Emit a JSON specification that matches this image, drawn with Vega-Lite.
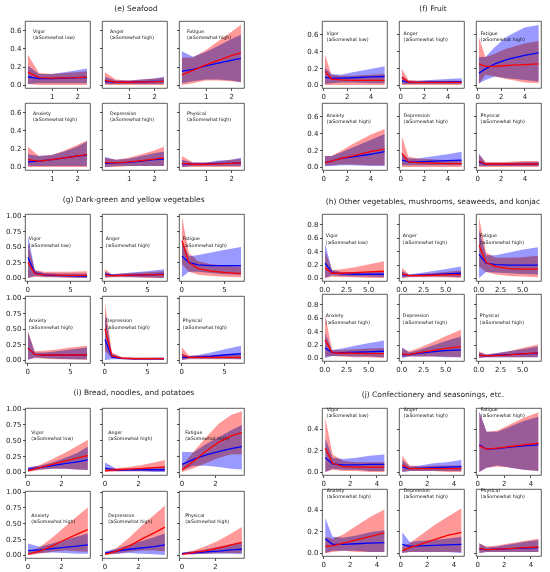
{
"$schema":"https://vega.github.io/schema/vega-lite/v6.json",
"data":{"name":"d","values":[
{"g":"e","p":"Vigor","x":0.07,"r":0.14,"rl":0.01,"rh":0.33,"b":0.09,"bl":0.01,"bh":0.21},
{"g":"e","p":"Vigor","x":0.5,"r":0.08,"rl":0,"rh":0.13,"b":0.07,"bl":0.02,"bh":0.12},
{"g":"e","p":"Vigor","x":1.0,"r":0.075,"rl":0,"rh":0.12,"b":0.07,"bl":0.02,"bh":0.12},
{"g":"e","p":"Vigor","x":1.5,"r":0.078,"rl":0,"rh":0.13,"b":0.075,"bl":0.02,"bh":0.14},
{"g":"e","p":"Vigor","x":2.0,"r":0.08,"rl":0,"rh":0.14,"b":0.08,"bl":0.02,"bh":0.16},
{"g":"e","p":"Vigor","x":2.38,"r":0.085,"rl":0,"rh":0.15,"b":0.082,"bl":0.02,"bh":0.18},
{"g":"e","p":"Anger","x":0.07,"r":0.05,"rl":0,"rh":0.14,"b":0.04,"bl":0.01,"bh":0.09},
{"g":"e","p":"Anger","x":0.5,"r":0.03,"rl":0,"rh":0.06,"b":0.03,"bl":0.01,"bh":0.05},
{"g":"e","p":"Anger","x":1.0,"r":0.03,"rl":0,"rh":0.05,"b":0.03,"bl":0.01,"bh":0.05},
{"g":"e","p":"Anger","x":1.5,"r":0.035,"rl":0,"rh":0.06,"b":0.035,"bl":0.01,"bh":0.06},
{"g":"e","p":"Anger","x":2.0,"r":0.035,"rl":0,"rh":0.07,"b":0.04,"bl":0.01,"bh":0.07},
{"g":"e","p":"Anger","x":2.38,"r":0.04,"rl":0,"rh":0.08,"b":0.04,"bl":0.01,"bh":0.09},
{"g":"e","p":"Fatigue","x":0.07,"r":0.11,"rl":0,"rh":0.30,"b":0.15,"bl":0.02,"bh":0.37},
{"g":"e","p":"Fatigue","x":0.5,"r":0.16,"rl":0.02,"rh":0.30,"b":0.17,"bl":0.04,"bh":0.31},
{"g":"e","p":"Fatigue","x":1.0,"r":0.22,"rl":0.05,"rh":0.38,"b":0.21,"bl":0.06,"bh":0.36},
{"g":"e","p":"Fatigue","x":1.5,"r":0.27,"rl":0.05,"rh":0.48,"b":0.24,"bl":0.06,"bh":0.43},
{"g":"e","p":"Fatigue","x":2.0,"r":0.32,"rl":0.04,"rh":0.58,"b":0.27,"bl":0.05,"bh":0.50},
{"g":"e","p":"Fatigue","x":2.38,"r":0.35,"rl":0.03,"rh":0.66,"b":0.29,"bl":0.03,"bh":0.55},
{"g":"e","p":"Anxiety","x":0.07,"r":0.08,"rl":0,"rh":0.22,"b":0.055,"bl":0.01,"bh":0.14},
{"g":"e","p":"Anxiety","x":0.5,"r":0.065,"rl":0,"rh":0.12,"b":0.065,"bl":0.01,"bh":0.12},
{"g":"e","p":"Anxiety","x":1.0,"r":0.08,"rl":0,"rh":0.13,"b":0.08,"bl":0.01,"bh":0.13},
{"g":"e","p":"Anxiety","x":1.5,"r":0.10,"rl":0,"rh":0.18,"b":0.10,"bl":0.01,"bh":0.17},
{"g":"e","p":"Anxiety","x":2.0,"r":0.12,"rl":0,"rh":0.24,"b":0.12,"bl":0.01,"bh":0.22},
{"g":"e","p":"Anxiety","x":2.38,"r":0.135,"rl":0,"rh":0.29,"b":0.13,"bl":0.01,"bh":0.28},
{"g":"e","p":"Depression","x":0.07,"r":0.05,"rl":0,"rh":0.10,"b":0.04,"bl":0,"bh":0.11},
{"g":"e","p":"Depression","x":0.5,"r":0.045,"rl":0,"rh":0.08,"b":0.045,"bl":0.01,"bh":0.08},
{"g":"e","p":"Depression","x":1.0,"r":0.055,"rl":0.01,"rh":0.10,"b":0.05,"bl":0.01,"bh":0.09},
{"g":"e","p":"Depression","x":1.5,"r":0.07,"rl":0.01,"rh":0.14,"b":0.065,"bl":0.01,"bh":0.12},
{"g":"e","p":"Depression","x":2.0,"r":0.085,"rl":0.01,"rh":0.18,"b":0.08,"bl":0.01,"bh":0.15},
{"g":"e","p":"Depression","x":2.38,"r":0.10,"rl":0.01,"rh":0.22,"b":0.085,"bl":0.01,"bh":0.17},
{"g":"e","p":"Physical","x":0.07,"r":0.04,"rl":0,"rh":0.12,"b":0.035,"bl":0,"bh":0.08},
{"g":"e","p":"Physical","x":0.5,"r":0.03,"rl":0,"rh":0.05,"b":0.03,"bl":0.01,"bh":0.05},
{"g":"e","p":"Physical","x":1.0,"r":0.03,"rl":0,"rh":0.05,"b":0.035,"bl":0.01,"bh":0.05},
{"g":"e","p":"Physical","x":1.5,"r":0.035,"rl":0,"rh":0.06,"b":0.04,"bl":0.01,"bh":0.07},
{"g":"e","p":"Physical","x":2.0,"r":0.04,"rl":0,"rh":0.08,"b":0.04,"bl":0.01,"bh":0.08},
{"g":"e","p":"Physical","x":2.38,"r":0.045,"rl":0,"rh":0.09,"b":0.045,"bl":0.01,"bh":0.10},
{"g":"f","p":"Vigor","x":0.15,"r":0.16,"rl":0,"rh":0.36,"b":0.09,"bl":0.01,"bh":0.20},
{"g":"f","p":"Vigor","x":0.7,"r":0.07,"rl":0,"rh":0.12,"b":0.08,"bl":0.02,"bh":0.13},
{"g":"f","p":"Vigor","x":1.5,"r":0.06,"rl":0,"rh":0.11,"b":0.08,"bl":0.03,"bh":0.12},
{"g":"f","p":"Vigor","x":2.5,"r":0.055,"rl":0,"rh":0.11,"b":0.085,"bl":0.03,"bh":0.15},
{"g":"f","p":"Vigor","x":4.0,"r":0.055,"rl":0,"rh":0.12,"b":0.095,"bl":0.02,"bh":0.19},
{"g":"f","p":"Vigor","x":5.2,"r":0.055,"rl":0,"rh":0.13,"b":0.10,"bl":0.02,"bh":0.22},
{"g":"f","p":"Anger","x":0.15,"r":0.09,"rl":0,"rh":0.19,"b":0.05,"bl":0.01,"bh":0.11},
{"g":"f","p":"Anger","x":0.7,"r":0.035,"rl":0,"rh":0.06,"b":0.03,"bl":0.01,"bh":0.05},
{"g":"f","p":"Anger","x":1.5,"r":0.03,"rl":0,"rh":0.05,"b":0.03,"bl":0.01,"bh":0.05},
{"g":"f","p":"Anger","x":2.5,"r":0.03,"rl":0,"rh":0.05,"b":0.035,"bl":0.01,"bh":0.06},
{"g":"f","p":"Anger","x":4.0,"r":0.03,"rl":0,"rh":0.05,"b":0.035,"bl":0.01,"bh":0.07},
{"g":"f","p":"Anger","x":5.2,"r":0.03,"rl":0,"rh":0.05,"b":0.04,"bl":0.01,"bh":0.08},
{"g":"f","p":"Fatigue","x":0.15,"r":0.25,"rl":0.01,"rh":0.56,"b":0.14,"bl":0.02,"bh":0.33},
{"g":"f","p":"Fatigue","x":0.7,"r":0.22,"rl":0.12,"rh":0.33,"b":0.19,"bl":0.06,"bh":0.33},
{"g":"f","p":"Fatigue","x":1.5,"r":0.22,"rl":0.10,"rh":0.37,"b":0.25,"bl":0.10,"bh":0.45},
{"g":"f","p":"Fatigue","x":2.5,"r":0.23,"rl":0.07,"rh":0.43,"b":0.30,"bl":0.08,"bh":0.57},
{"g":"f","p":"Fatigue","x":4.0,"r":0.24,"rl":0.03,"rh":0.49,"b":0.35,"bl":0.06,"bh":0.68},
{"g":"f","p":"Fatigue","x":5.2,"r":0.25,"rl":0.02,"rh":0.52,"b":0.38,"bl":0.04,"bh":0.71},
{"g":"f","p":"Anxiety","x":0.15,"r":0.05,"rl":0.01,"rh":0.13,"b":0.05,"bl":0.01,"bh":0.13},
{"g":"f","p":"Anxiety","x":0.7,"r":0.07,"rl":0.02,"rh":0.13,"b":0.07,"bl":0.01,"bh":0.13},
{"g":"f","p":"Anxiety","x":1.5,"r":0.10,"rl":0.03,"rh":0.19,"b":0.10,"bl":0.02,"bh":0.17},
{"g":"f","p":"Anxiety","x":2.5,"r":0.13,"rl":0.03,"rh":0.27,"b":0.12,"bl":0.02,"bh":0.23},
{"g":"f","p":"Anxiety","x":4.0,"r":0.18,"rl":0.02,"rh":0.38,"b":0.15,"bl":0.01,"bh":0.32},
{"g":"f","p":"Anxiety","x":5.2,"r":0.21,"rl":0.02,"rh":0.45,"b":0.18,"bl":0.01,"bh":0.39},
{"g":"f","p":"Depression","x":0.15,"r":0.16,"rl":0,"rh":0.36,"b":0.08,"bl":0.02,"bh":0.16},
{"g":"f","p":"Depression","x":0.7,"r":0.06,"rl":0,"rh":0.12,"b":0.06,"bl":0.02,"bh":0.10},
{"g":"f","p":"Depression","x":1.5,"r":0.05,"rl":0,"rh":0.10,"b":0.06,"bl":0.02,"bh":0.10},
{"g":"f","p":"Depression","x":2.5,"r":0.045,"rl":0,"rh":0.09,"b":0.065,"bl":0.02,"bh":0.12},
{"g":"f","p":"Depression","x":4.0,"r":0.04,"rl":0,"rh":0.08,"b":0.075,"bl":0.02,"bh":0.15},
{"g":"f","p":"Depression","x":5.2,"r":0.04,"rl":0,"rh":0.08,"b":0.08,"bl":0.02,"bh":0.18},
{"g":"f","p":"Physical","x":0.15,"r":0.07,"rl":0,"rh":0.15,"b":0.06,"bl":0.01,"bh":0.16},
{"g":"f","p":"Physical","x":0.7,"r":0.035,"rl":0,"rh":0.06,"b":0.03,"bl":0.01,"bh":0.05},
{"g":"f","p":"Physical","x":1.5,"r":0.035,"rl":0,"rh":0.06,"b":0.03,"bl":0.01,"bh":0.05},
{"g":"f","p":"Physical","x":2.5,"r":0.035,"rl":0,"rh":0.06,"b":0.03,"bl":0.01,"bh":0.05},
{"g":"f","p":"Physical","x":4.0,"r":0.035,"rl":0,"rh":0.07,"b":0.03,"bl":0.01,"bh":0.06},
{"g":"f","p":"Physical","x":5.2,"r":0.035,"rl":0,"rh":0.07,"b":0.03,"bl":0.01,"bh":0.06},
{"g":"g","p":"Vigor","x":0.1,"r":0.25,"rl":0,"rh":0.55,"b":0.33,"bl":0,"bh":0.68},
{"g":"g","p":"Vigor","x":0.9,"r":0.07,"rl":0.02,"rh":0.13,"b":0.08,"bl":0.03,"bh":0.12},
{"g":"g","p":"Vigor","x":2.0,"r":0.05,"rl":0.01,"rh":0.10,"b":0.05,"bl":0.02,"bh":0.08},
{"g":"g","p":"Vigor","x":3.5,"r":0.045,"rl":0.01,"rh":0.10,"b":0.04,"bl":0.01,"bh":0.07},
{"g":"g","p":"Vigor","x":5.0,"r":0.04,"rl":0,"rh":0.10,"b":0.035,"bl":0.01,"bh":0.07},
{"g":"g","p":"Vigor","x":7.0,"r":0.04,"rl":0,"rh":0.11,"b":0.03,"bl":0,"bh":0.07},
{"g":"g","p":"Anger","x":0.1,"r":0.05,"rl":0,"rh":0.14,"b":0.06,"bl":0.01,"bh":0.10},
{"g":"g","p":"Anger","x":0.9,"r":0.035,"rl":0.01,"rh":0.06,"b":0.04,"bl":0.02,"bh":0.06},
{"g":"g","p":"Anger","x":2.0,"r":0.04,"rl":0.01,"rh":0.07,"b":0.04,"bl":0.02,"bh":0.07},
{"g":"g","p":"Anger","x":3.5,"r":0.045,"rl":0.01,"rh":0.08,"b":0.045,"bl":0.01,"bh":0.09},
{"g":"g","p":"Anger","x":5.0,"r":0.05,"rl":0,"rh":0.09,"b":0.05,"bl":0.01,"bh":0.11},
{"g":"g","p":"Anger","x":7.0,"r":0.055,"rl":0,"rh":0.11,"b":0.06,"bl":0,"bh":0.14},
{"g":"g","p":"Fatigue","x":0.1,"r":0.60,"rl":0.22,"rh":0.98,"b":0.35,"bl":0.01,"bh":0.60},
{"g":"g","p":"Fatigue","x":0.9,"r":0.25,"rl":0.10,"rh":0.40,"b":0.25,"bl":0.10,"bh":0.35},
{"g":"g","p":"Fatigue","x":2.0,"r":0.15,"rl":0.05,"rh":0.27,"b":0.21,"bl":0.10,"bh":0.37},
{"g":"g","p":"Fatigue","x":3.5,"r":0.11,"rl":0.03,"rh":0.22,"b":0.20,"bl":0.08,"bh":0.41},
{"g":"g","p":"Fatigue","x":5.0,"r":0.09,"rl":0.02,"rh":0.20,"b":0.20,"bl":0.06,"bh":0.45},
{"g":"g","p":"Fatigue","x":7.0,"r":0.07,"rl":0.01,"rh":0.18,"b":0.20,"bl":0.05,"bh":0.50},
{"g":"g","p":"Anxiety","x":0.1,"r":0.19,"rl":0.01,"rh":0.46,"b":0.19,"bl":0,"bh":0.45},
{"g":"g","p":"Anxiety","x":0.9,"r":0.09,"rl":0.03,"rh":0.14,"b":0.09,"bl":0.04,"bh":0.12},
{"g":"g","p":"Anxiety","x":2.0,"r":0.08,"rl":0.02,"rh":0.15,"b":0.08,"bl":0.03,"bh":0.12},
{"g":"g","p":"Anxiety","x":3.5,"r":0.08,"rl":0.01,"rh":0.17,"b":0.08,"bl":0.02,"bh":0.14},
{"g":"g","p":"Anxiety","x":5.0,"r":0.08,"rl":0.01,"rh":0.20,"b":0.08,"bl":0.01,"bh":0.17},
{"g":"g","p":"Anxiety","x":7.0,"r":0.08,"rl":0,"rh":0.23,"b":0.08,"bl":0.01,"bh":0.20},
{"g":"g","p":"Depression","x":0.1,"r":0.50,"rl":0.15,"rh":0.92,"b":0.33,"bl":0,"bh":0.75},
{"g":"g","p":"Depression","x":0.9,"r":0.07,"rl":0.03,"rh":0.12,"b":0.05,"bl":0.01,"bh":0.10},
{"g":"g","p":"Depression","x":2.0,"r":0.03,"rl":0.01,"rh":0.05,"b":0.025,"bl":0.01,"bh":0.04},
{"g":"g","p":"Depression","x":3.5,"r":0.02,"rl":0,"rh":0.04,"b":0.02,"bl":0,"bh":0.035},
{"g":"g","p":"Depression","x":5.0,"r":0.02,"rl":0,"rh":0.04,"b":0.02,"bl":0,"bh":0.035},
{"g":"g","p":"Depression","x":7.0,"r":0.02,"rl":0,"rh":0.04,"b":0.02,"bl":0,"bh":0.04},
{"g":"g","p":"Physical","x":0.1,"r":0.08,"rl":0,"rh":0.20,"b":0.04,"bl":0,"bh":0.10},
{"g":"g","p":"Physical","x":0.9,"r":0.04,"rl":0.01,"rh":0.07,"b":0.04,"bl":0.02,"bh":0.06},
{"g":"g","p":"Physical","x":2.0,"r":0.04,"rl":0.01,"rh":0.07,"b":0.05,"bl":0.02,"bh":0.08},
{"g":"g","p":"Physical","x":3.5,"r":0.04,"rl":0.01,"rh":0.07,"b":0.06,"bl":0.02,"bh":0.12},
{"g":"g","p":"Physical","x":5.0,"r":0.04,"rl":0.01,"rh":0.08,"b":0.08,"bl":0.02,"bh":0.17},
{"g":"g","p":"Physical","x":7.0,"r":0.04,"rl":0.01,"rh":0.08,"b":0.10,"bl":0.01,"bh":0.23},
{"g":"h","p":"Vigor","x":0.1,"r":0.15,"rl":0,"rh":0.40,"b":0.22,"bl":0,"bh":0.51},
{"g":"h","p":"Vigor","x":0.9,"r":0.07,"rl":0.02,"rh":0.12,"b":0.08,"bl":0.04,"bh":0.12},
{"g":"h","p":"Vigor","x":2.0,"r":0.07,"rl":0.01,"rh":0.13,"b":0.06,"bl":0.03,"bh":0.09},
{"g":"h","p":"Vigor","x":3.5,"r":0.08,"rl":0.01,"rh":0.16,"b":0.055,"bl":0.02,"bh":0.09},
{"g":"h","p":"Vigor","x":5.0,"r":0.09,"rl":0,"rh":0.20,"b":0.055,"bl":0.02,"bh":0.09},
{"g":"h","p":"Vigor","x":6.8,"r":0.10,"rl":0,"rh":0.25,"b":0.055,"bl":0.01,"bh":0.09},
{"g":"h","p":"Anger","x":0.1,"r":0.06,"rl":0,"rh":0.15,"b":0.05,"bl":0,"bh":0.10},
{"g":"h","p":"Anger","x":0.9,"r":0.035,"rl":0.01,"rh":0.05,"b":0.035,"bl":0.02,"bh":0.05},
{"g":"h","p":"Anger","x":2.0,"r":0.035,"rl":0.01,"rh":0.06,"b":0.04,"bl":0.02,"bh":0.07},
{"g":"h","p":"Anger","x":3.5,"r":0.04,"rl":0.01,"rh":0.07,"b":0.05,"bl":0.02,"bh":0.10},
{"g":"h","p":"Anger","x":5.0,"r":0.045,"rl":0.01,"rh":0.09,"b":0.06,"bl":0.02,"bh":0.13},
{"g":"h","p":"Anger","x":6.8,"r":0.05,"rl":0,"rh":0.11,"b":0.07,"bl":0.01,"bh":0.17},
{"g":"h","p":"Fatigue","x":0.1,"r":0.49,"rl":0.17,"rh":0.90,"b":0.35,"bl":0,"bh":0.72},
{"g":"h","p":"Fatigue","x":0.9,"r":0.23,"rl":0.09,"rh":0.38,"b":0.22,"bl":0.09,"bh":0.34},
{"g":"h","p":"Fatigue","x":2.0,"r":0.17,"rl":0.05,"rh":0.30,"b":0.20,"bl":0.08,"bh":0.34},
{"g":"h","p":"Fatigue","x":3.5,"r":0.14,"rl":0.03,"rh":0.30,"b":0.19,"bl":0.07,"bh":0.38},
{"g":"h","p":"Fatigue","x":5.0,"r":0.13,"rl":0.02,"rh":0.31,"b":0.19,"bl":0.06,"bh":0.42},
{"g":"h","p":"Fatigue","x":6.8,"r":0.13,"rl":0.01,"rh":0.33,"b":0.19,"bl":0.05,"bh":0.46},
{"g":"h","p":"Anxiety","x":0.1,"r":0.27,"rl":0.02,"rh":0.64,"b":0.15,"bl":0,"bh":0.37},
{"g":"h","p":"Anxiety","x":0.9,"r":0.08,"rl":0.03,"rh":0.12,"b":0.08,"bl":0.03,"bh":0.12},
{"g":"h","p":"Anxiety","x":2.0,"r":0.07,"rl":0.02,"rh":0.12,"b":0.08,"bl":0.03,"bh":0.14},
{"g":"h","p":"Anxiety","x":3.5,"r":0.07,"rl":0.01,"rh":0.13,"b":0.085,"bl":0.02,"bh":0.18},
{"g":"h","p":"Anxiety","x":5.0,"r":0.065,"rl":0.01,"rh":0.14,"b":0.09,"bl":0.02,"bh":0.22},
{"g":"h","p":"Anxiety","x":6.8,"r":0.065,"rl":0,"rh":0.15,"b":0.10,"bl":0.01,"bh":0.26},
{"g":"h","p":"Depression","x":0.1,"r":0.06,"rl":0.01,"rh":0.14,"b":0.05,"bl":0,"bh":0.16},
{"g":"h","p":"Depression","x":0.9,"r":0.05,"rl":0.02,"rh":0.10,"b":0.05,"bl":0.02,"bh":0.08},
{"g":"h","p":"Depression","x":2.0,"r":0.08,"rl":0.02,"rh":0.15,"b":0.07,"bl":0.02,"bh":0.12},
{"g":"h","p":"Depression","x":3.5,"r":0.11,"rl":0.02,"rh":0.23,"b":0.09,"bl":0.02,"bh":0.18},
{"g":"h","p":"Depression","x":5.0,"r":0.14,"rl":0.02,"rh":0.32,"b":0.11,"bl":0.01,"bh":0.25},
{"g":"h","p":"Depression","x":6.8,"r":0.17,"rl":0.01,"rh":0.42,"b":0.12,"bl":0.01,"bh":0.32},
{"g":"h","p":"Physical","x":0.1,"r":0.04,"rl":0,"rh":0.10,"b":0.04,"bl":0,"bh":0.08},
{"g":"h","p":"Physical","x":0.9,"r":0.03,"rl":0.01,"rh":0.05,"b":0.03,"bl":0.01,"bh":0.05},
{"g":"h","p":"Physical","x":2.0,"r":0.035,"rl":0.01,"rh":0.07,"b":0.04,"bl":0.01,"bh":0.07},
{"g":"h","p":"Physical","x":3.5,"r":0.045,"rl":0.01,"rh":0.10,"b":0.05,"bl":0.01,"bh":0.10},
{"g":"h","p":"Physical","x":5.0,"r":0.06,"rl":0.01,"rh":0.15,"b":0.06,"bl":0.01,"bh":0.13},
{"g":"h","p":"Physical","x":6.8,"r":0.075,"rl":0.01,"rh":0.20,"b":0.07,"bl":0.01,"bh":0.17},
{"g":"i","p":"Vigor","x":0.15,"r":0.02,"rl":0,"rh":0.06,"b":0.04,"bl":0.01,"bh":0.08},
{"g":"i","p":"Vigor","x":0.8,"r":0.07,"rl":0.03,"rh":0.11,"b":0.07,"bl":0.04,"bh":0.10},
{"g":"i","p":"Vigor","x":1.5,"r":0.12,"rl":0.05,"rh":0.20,"b":0.10,"bl":0.05,"bh":0.15},
{"g":"i","p":"Vigor","x":2.2,"r":0.17,"rl":0.05,"rh":0.30,"b":0.13,"bl":0.05,"bh":0.22},
{"g":"i","p":"Vigor","x":2.9,"r":0.22,"rl":0.04,"rh":0.41,"b":0.16,"bl":0.04,"bh":0.30},
{"g":"i","p":"Vigor","x":3.5,"r":0.26,"rl":0.03,"rh":0.51,"b":0.19,"bl":0.03,"bh":0.40},
{"g":"i","p":"Anger","x":0.15,"r":0.02,"rl":0,"rh":0.05,"b":0.06,"bl":0.01,"bh":0.15},
{"g":"i","p":"Anger","x":0.8,"r":0.035,"rl":0.01,"rh":0.06,"b":0.03,"bl":0.01,"bh":0.05},
{"g":"i","p":"Anger","x":1.5,"r":0.045,"rl":0.01,"rh":0.08,"b":0.035,"bl":0.01,"bh":0.05},
{"g":"i","p":"Anger","x":2.2,"r":0.055,"rl":0.01,"rh":0.11,"b":0.035,"bl":0.01,"bh":0.06},
{"g":"i","p":"Anger","x":2.9,"r":0.07,"rl":0.01,"rh":0.15,"b":0.035,"bl":0,"bh":0.07},
{"g":"i","p":"Anger","x":3.5,"r":0.08,"rl":0.01,"rh":0.19,"b":0.035,"bl":0,"bh":0.08},
{"g":"i","p":"Fatigue","x":0.15,"r":0.03,"rl":0,"rh":0.10,"b":0.12,"bl":0.03,"bh":0.32},
{"g":"i","p":"Fatigue","x":0.8,"r":0.17,"rl":0.06,"rh":0.32,"b":0.20,"bl":0.10,"bh":0.31},
{"g":"i","p":"Fatigue","x":1.5,"r":0.33,"rl":0.14,"rh":0.55,"b":0.27,"bl":0.10,"bh":0.44},
{"g":"i","p":"Fatigue","x":2.2,"r":0.47,"rl":0.22,"rh":0.76,"b":0.32,"bl":0.08,"bh":0.55},
{"g":"i","p":"Fatigue","x":2.9,"r":0.57,"rl":0.28,"rh":0.90,"b":0.37,"bl":0.05,"bh":0.66},
{"g":"i","p":"Fatigue","x":3.5,"r":0.62,"rl":0.28,"rh":0.96,"b":0.40,"bl":0.04,"bh":0.74},
{"g":"i","p":"Anxiety","x":0.15,"r":0.01,"rl":0,"rh":0.05,"b":0.07,"bl":0.01,"bh":0.18},
{"g":"i","p":"Anxiety","x":0.8,"r":0.06,"rl":0.02,"rh":0.12,"b":0.08,"bl":0.03,"bh":0.13},
{"g":"i","p":"Anxiety","x":1.5,"r":0.14,"rl":0.05,"rh":0.27,"b":0.10,"bl":0.04,"bh":0.18},
{"g":"i","p":"Anxiety","x":2.2,"r":0.24,"rl":0.07,"rh":0.44,"b":0.12,"bl":0.03,"bh":0.24},
{"g":"i","p":"Anxiety","x":2.9,"r":0.33,"rl":0.06,"rh":0.61,"b":0.14,"bl":0.02,"bh":0.29},
{"g":"i","p":"Anxiety","x":3.5,"r":0.40,"rl":0.05,"rh":0.75,"b":0.16,"bl":0.02,"bh":0.34},
{"g":"i","p":"Depression","x":0.15,"r":0.01,"rl":0,"rh":0.03,"b":0.03,"bl":0.01,"bh":0.06},
{"g":"i","p":"Depression","x":0.8,"r":0.06,"rl":0.02,"rh":0.11,"b":0.06,"bl":0.02,"bh":0.10},
{"g":"i","p":"Depression","x":1.5,"r":0.14,"rl":0.05,"rh":0.27,"b":0.09,"bl":0.03,"bh":0.16},
{"g":"i","p":"Depression","x":2.2,"r":0.25,"rl":0.07,"rh":0.46,"b":0.11,"bl":0.02,"bh":0.22},
{"g":"i","p":"Depression","x":2.9,"r":0.35,"rl":0.07,"rh":0.63,"b":0.13,"bl":0.01,"bh":0.28},
{"g":"i","p":"Depression","x":3.5,"r":0.44,"rl":0.06,"rh":0.78,"b":0.16,"bl":0,"bh":0.34},
{"g":"i","p":"Physical","x":0.15,"r":0.01,"rl":0,"rh":0.03,"b":0.02,"bl":0.01,"bh":0.04},
{"g":"i","p":"Physical","x":0.8,"r":0.04,"rl":0.01,"rh":0.07,"b":0.035,"bl":0.01,"bh":0.06},
{"g":"i","p":"Physical","x":1.5,"r":0.07,"rl":0.02,"rh":0.14,"b":0.05,"bl":0.02,"bh":0.09},
{"g":"i","p":"Physical","x":2.2,"r":0.11,"rl":0.03,"rh":0.23,"b":0.06,"bl":0.02,"bh":0.13},
{"g":"i","p":"Physical","x":2.9,"r":0.16,"rl":0.03,"rh":0.34,"b":0.08,"bl":0.02,"bh":0.17},
{"g":"i","p":"Physical","x":3.5,"r":0.20,"rl":0.03,"rh":0.44,"b":0.09,"bl":0.01,"bh":0.20},
{"g":"j","p":"Vigor","x":0.15,"r":0.22,"rl":0,"rh":0.50,"b":0.13,"bl":0,"bh":0.31},
{"g":"j","p":"Vigor","x":0.7,"r":0.08,"rl":0.02,"rh":0.16,"b":0.075,"bl":0.03,"bh":0.13},
{"g":"j","p":"Vigor","x":1.5,"r":0.05,"rl":0.01,"rh":0.10,"b":0.065,"bl":0.02,"bh":0.12},
{"g":"j","p":"Vigor","x":2.5,"r":0.045,"rl":0.01,"rh":0.09,"b":0.065,"bl":0.02,"bh":0.13},
{"g":"j","p":"Vigor","x":3.5,"r":0.045,"rl":0,"rh":0.09,"b":0.07,"bl":0.01,"bh":0.15},
{"g":"j","p":"Vigor","x":4.6,"r":0.045,"rl":0,"rh":0.09,"b":0.07,"bl":0.01,"bh":0.16},
{"g":"j","p":"Anger","x":0.15,"r":0.065,"rl":0,"rh":0.15,"b":0.045,"bl":0,"bh":0.11},
{"g":"j","p":"Anger","x":0.7,"r":0.03,"rl":0.01,"rh":0.06,"b":0.03,"bl":0.01,"bh":0.05},
{"g":"j","p":"Anger","x":1.5,"r":0.03,"rl":0.01,"rh":0.05,"b":0.035,"bl":0.01,"bh":0.06},
{"g":"j","p":"Anger","x":2.5,"r":0.03,"rl":0.01,"rh":0.06,"b":0.04,"bl":0.01,"bh":0.08},
{"g":"j","p":"Anger","x":3.5,"r":0.03,"rl":0,"rh":0.06,"b":0.045,"bl":0.01,"bh":0.09},
{"g":"j","p":"Anger","x":4.6,"r":0.03,"rl":0,"rh":0.06,"b":0.05,"bl":0.01,"bh":0.11},
{"g":"j","p":"Fatigue","x":0.15,"r":0.24,"rl":0,"rh":0.55,"b":0.25,"bl":0,"bh":0.56},
{"g":"j","p":"Fatigue","x":0.7,"r":0.21,"rl":0.04,"rh":0.37,"b":0.21,"bl":0.04,"bh":0.37},
{"g":"j","p":"Fatigue","x":1.5,"r":0.22,"rl":0.05,"rh":0.38,"b":0.215,"bl":0.06,"bh":0.37},
{"g":"j","p":"Fatigue","x":2.5,"r":0.235,"rl":0.04,"rh":0.44,"b":0.23,"bl":0.04,"bh":0.42},
{"g":"j","p":"Fatigue","x":3.5,"r":0.25,"rl":0.02,"rh":0.50,"b":0.24,"bl":0.02,"bh":0.47},
{"g":"j","p":"Fatigue","x":4.6,"r":0.265,"rl":0.01,"rh":0.55,"b":0.25,"bl":0.01,"bh":0.51},
{"g":"j","p":"Anxiety","x":0.15,"r":0.06,"rl":0,"rh":0.15,"b":0.13,"bl":0,"bh":0.32},
{"g":"j","p":"Anxiety","x":0.7,"r":0.065,"rl":0.01,"rh":0.13,"b":0.08,"bl":0.02,"bh":0.15},
{"g":"j","p":"Anxiety","x":1.5,"r":0.09,"rl":0.02,"rh":0.17,"b":0.08,"bl":0.02,"bh":0.14},
{"g":"j","p":"Anxiety","x":2.5,"r":0.12,"rl":0.01,"rh":0.25,"b":0.085,"bl":0.02,"bh":0.16},
{"g":"j","p":"Anxiety","x":3.5,"r":0.15,"rl":0.01,"rh":0.33,"b":0.09,"bl":0.01,"bh":0.19},
{"g":"j","p":"Anxiety","x":4.6,"r":0.185,"rl":0.01,"rh":0.40,"b":0.095,"bl":0.01,"bh":0.21},
{"g":"j","p":"Depression","x":0.15,"r":0.02,"rl":0,"rh":0.06,"b":0.08,"bl":0,"bh":0.19},
{"g":"j","p":"Depression","x":0.7,"r":0.05,"rl":0.01,"rh":0.09,"b":0.06,"bl":0.01,"bh":0.10},
{"g":"j","p":"Depression","x":1.5,"r":0.08,"rl":0.01,"rh":0.16,"b":0.065,"bl":0.01,"bh":0.11},
{"g":"j","p":"Depression","x":2.5,"r":0.12,"rl":0.01,"rh":0.25,"b":0.07,"bl":0.01,"bh":0.12},
{"g":"j","p":"Depression","x":3.5,"r":0.16,"rl":0.01,"rh":0.33,"b":0.075,"bl":0.01,"bh":0.13},
{"g":"j","p":"Depression","x":4.6,"r":0.19,"rl":0.01,"rh":0.41,"b":0.08,"bl":0,"bh":0.15},
{"g":"j","p":"Physical","x":0.15,"r":0.04,"rl":0,"rh":0.09,"b":0.035,"bl":0,"bh":0.09},
{"g":"j","p":"Physical","x":0.7,"r":0.03,"rl":0.01,"rh":0.06,"b":0.03,"bl":0.01,"bh":0.05},
{"g":"j","p":"Physical","x":1.5,"r":0.035,"rl":0.01,"rh":0.07,"b":0.035,"bl":0.01,"bh":0.06},
{"g":"j","p":"Physical","x":2.5,"r":0.04,"rl":0.01,"rh":0.09,"b":0.04,"bl":0.01,"bh":0.08},
{"g":"j","p":"Physical","x":3.5,"r":0.05,"rl":0.01,"rh":0.11,"b":0.045,"bl":0.01,"bh":0.10},
{"g":"j","p":"Physical","x":4.6,"r":0.055,"rl":0.01,"rh":0.13,"b":0.05,"bl":0.01,"bh":0.12}
]},
"spacing":13,
"vconcat":[
{"spacing":61,"hconcat":[
{"title":"(e) Seafood","spacing":2,"vconcat":[
{"spacing":7,"hconcat":[
{"transform":[{"filter":"datum.g=='e'&&datum.p=='Vigor'"}],"width":65,"height":67,"encoding":{"x":{"field":"x","type":"quantitative","scale":{"domain":[-0.045,2.5],"nice":false,"zero":false},"axis":{"values":[1,2],"format":"d","title":null}}},"layer":[
{"transform":[{"filter":"datum.x==0.07"}],"mark":{"type":"text","fontSize":4.7,"align":"left","baseline":"middle","color":"#111"},"encoding":{"x":{"datum":0.27},"y":{"datum":0.58},"text":{"field":"p"}}},
{"transform":[{"filter":"datum.x==0.07"}],"mark":{"type":"text","fontSize":4.7,"align":"left","baseline":"middle","color":"#111","dy":6.3},"encoding":{"x":{"datum":0.27},"y":{"datum":0.58},"text":{"value":"(≥Somewhat low)"}}},
{"mark":{"type":"area","color":"#ff0000"},"encoding":{"y":{"field":"rl","type":"quantitative","scale":{"domain":[-0.033,0.7],"nice":false,"zero":false},"axis":{"values":[0,0.2,0.4,0.6],"tickCount":10,"format":".1f","title":null,"labelOverlap":false,"minExtent":15,"maxExtent":15}},"y2":{"field":"rh"}}},
{"mark":{"type":"area","color":"#0000ff"},"encoding":{"y":{"field":"bl","type":"quantitative"},"y2":{"field":"bh"}}},
{"mark":{"type":"line","color":"#0000ff"},"encoding":{"y":{"field":"b","type":"quantitative"}}},
{"mark":{"type":"line","color":"#ff0000"},"encoding":{"y":{"field":"r","type":"quantitative"}}}]},
{"transform":[{"filter":"datum.g=='e'&&datum.p=='Anger'"}],"width":65,"height":67,"encoding":{"x":{"field":"x","type":"quantitative","scale":{"domain":[-0.045,2.5],"nice":false,"zero":false},"axis":{"values":[1,2],"format":"d","title":null}}},"layer":[
{"transform":[{"filter":"datum.x==0.07"}],"mark":{"type":"text","fontSize":4.7,"align":"left","baseline":"middle","color":"#111"},"encoding":{"x":{"datum":0.27},"y":{"datum":0.58},"text":{"field":"p"}}},
{"transform":[{"filter":"datum.x==0.07"}],"mark":{"type":"text","fontSize":4.7,"align":"left","baseline":"middle","color":"#111","dy":6.3},"encoding":{"x":{"datum":0.27},"y":{"datum":0.58},"text":{"value":"(≥Somewhat high)"}}},
{"mark":{"type":"area","color":"#ff0000"},"encoding":{"y":{"field":"rl","type":"quantitative","scale":{"domain":[-0.033,0.7],"nice":false,"zero":false},"axis":{"values":[0,0.2,0.4,0.6],"tickCount":10,"labels":false,"title":null,"minExtent":3,"maxExtent":3}},"y2":{"field":"rh"}}},
{"mark":{"type":"area","color":"#0000ff"},"encoding":{"y":{"field":"bl","type":"quantitative"},"y2":{"field":"bh"}}},
{"mark":{"type":"line","color":"#0000ff"},"encoding":{"y":{"field":"b","type":"quantitative"}}},
{"mark":{"type":"line","color":"#ff0000"},"encoding":{"y":{"field":"r","type":"quantitative"}}}]},
{"transform":[{"filter":"datum.g=='e'&&datum.p=='Fatigue'"}],"width":65,"height":67,"encoding":{"x":{"field":"x","type":"quantitative","scale":{"domain":[-0.045,2.5],"nice":false,"zero":false},"axis":{"values":[1,2],"format":"d","title":null}}},"layer":[
{"transform":[{"filter":"datum.x==0.07"}],"mark":{"type":"text","fontSize":4.7,"align":"left","baseline":"middle","color":"#111"},"encoding":{"x":{"datum":0.27},"y":{"datum":0.58},"text":{"field":"p"}}},
{"transform":[{"filter":"datum.x==0.07"}],"mark":{"type":"text","fontSize":4.7,"align":"left","baseline":"middle","color":"#111","dy":6.3},"encoding":{"x":{"datum":0.27},"y":{"datum":0.58},"text":{"value":"(≥Somewhat high)"}}},
{"mark":{"type":"area","color":"#ff0000"},"encoding":{"y":{"field":"rl","type":"quantitative","scale":{"domain":[-0.033,0.7],"nice":false,"zero":false},"axis":{"values":[0,0.2,0.4,0.6],"tickCount":10,"labels":false,"title":null,"minExtent":3,"maxExtent":3}},"y2":{"field":"rh"}}},
{"mark":{"type":"area","color":"#0000ff"},"encoding":{"y":{"field":"bl","type":"quantitative"},"y2":{"field":"bh"}}},
{"mark":{"type":"line","color":"#0000ff"},"encoding":{"y":{"field":"b","type":"quantitative"}}},
{"mark":{"type":"line","color":"#ff0000"},"encoding":{"y":{"field":"r","type":"quantitative"}}}]}
]},
{"spacing":7,"hconcat":[
{"transform":[{"filter":"datum.g=='e'&&datum.p=='Anxiety'"}],"width":65,"height":67,"encoding":{"x":{"field":"x","type":"quantitative","scale":{"domain":[-0.045,2.5],"nice":false,"zero":false},"axis":{"values":[1,2],"format":"d","title":null}}},"layer":[
{"transform":[{"filter":"datum.x==0.07"}],"mark":{"type":"text","fontSize":4.7,"align":"left","baseline":"middle","color":"#111"},"encoding":{"x":{"datum":0.27},"y":{"datum":0.58},"text":{"field":"p"}}},
{"transform":[{"filter":"datum.x==0.07"}],"mark":{"type":"text","fontSize":4.7,"align":"left","baseline":"middle","color":"#111","dy":6.3},"encoding":{"x":{"datum":0.27},"y":{"datum":0.58},"text":{"value":"(≥Somewhat high)"}}},
{"mark":{"type":"area","color":"#ff0000"},"encoding":{"y":{"field":"rl","type":"quantitative","scale":{"domain":[-0.033,0.7],"nice":false,"zero":false},"axis":{"values":[0,0.2,0.4,0.6],"tickCount":10,"format":".1f","title":null,"labelOverlap":false,"minExtent":15,"maxExtent":15}},"y2":{"field":"rh"}}},
{"mark":{"type":"area","color":"#0000ff"},"encoding":{"y":{"field":"bl","type":"quantitative"},"y2":{"field":"bh"}}},
{"mark":{"type":"line","color":"#0000ff"},"encoding":{"y":{"field":"b","type":"quantitative"}}},
{"mark":{"type":"line","color":"#ff0000"},"encoding":{"y":{"field":"r","type":"quantitative"}}}]},
{"transform":[{"filter":"datum.g=='e'&&datum.p=='Depression'"}],"width":65,"height":67,"encoding":{"x":{"field":"x","type":"quantitative","scale":{"domain":[-0.045,2.5],"nice":false,"zero":false},"axis":{"values":[1,2],"format":"d","title":null}}},"layer":[
{"transform":[{"filter":"datum.x==0.07"}],"mark":{"type":"text","fontSize":4.7,"align":"left","baseline":"middle","color":"#111"},"encoding":{"x":{"datum":0.27},"y":{"datum":0.58},"text":{"field":"p"}}},
{"transform":[{"filter":"datum.x==0.07"}],"mark":{"type":"text","fontSize":4.7,"align":"left","baseline":"middle","color":"#111","dy":6.3},"encoding":{"x":{"datum":0.27},"y":{"datum":0.58},"text":{"value":"(≥Somewhat high)"}}},
{"mark":{"type":"area","color":"#ff0000"},"encoding":{"y":{"field":"rl","type":"quantitative","scale":{"domain":[-0.033,0.7],"nice":false,"zero":false},"axis":{"values":[0,0.2,0.4,0.6],"tickCount":10,"labels":false,"title":null,"minExtent":3,"maxExtent":3}},"y2":{"field":"rh"}}},
{"mark":{"type":"area","color":"#0000ff"},"encoding":{"y":{"field":"bl","type":"quantitative"},"y2":{"field":"bh"}}},
{"mark":{"type":"line","color":"#0000ff"},"encoding":{"y":{"field":"b","type":"quantitative"}}},
{"mark":{"type":"line","color":"#ff0000"},"encoding":{"y":{"field":"r","type":"quantitative"}}}]},
{"transform":[{"filter":"datum.g=='e'&&datum.p=='Physical'"}],"width":65,"height":67,"encoding":{"x":{"field":"x","type":"quantitative","scale":{"domain":[-0.045,2.5],"nice":false,"zero":false},"axis":{"values":[1,2],"format":"d","title":null}}},"layer":[
{"transform":[{"filter":"datum.x==0.07"}],"mark":{"type":"text","fontSize":4.7,"align":"left","baseline":"middle","color":"#111"},"encoding":{"x":{"datum":0.27},"y":{"datum":0.58},"text":{"field":"p"}}},
{"transform":[{"filter":"datum.x==0.07"}],"mark":{"type":"text","fontSize":4.7,"align":"left","baseline":"middle","color":"#111","dy":6.3},"encoding":{"x":{"datum":0.27},"y":{"datum":0.58},"text":{"value":"(≥Somewhat high)"}}},
{"mark":{"type":"area","color":"#ff0000"},"encoding":{"y":{"field":"rl","type":"quantitative","scale":{"domain":[-0.033,0.7],"nice":false,"zero":false},"axis":{"values":[0,0.2,0.4,0.6],"tickCount":10,"labels":false,"title":null,"minExtent":3,"maxExtent":3}},"y2":{"field":"rh"}}},
{"mark":{"type":"area","color":"#0000ff"},"encoding":{"y":{"field":"bl","type":"quantitative"},"y2":{"field":"bh"}}},
{"mark":{"type":"line","color":"#0000ff"},"encoding":{"y":{"field":"b","type":"quantitative"}}},
{"mark":{"type":"line","color":"#ff0000"},"encoding":{"y":{"field":"r","type":"quantitative"}}}]}
]}
]},
{"title":"(f) Fruit","spacing":2,"vconcat":[
{"spacing":7,"hconcat":[
{"transform":[{"filter":"datum.g=='f'&&datum.p=='Vigor'"}],"width":65,"height":67,"encoding":{"x":{"field":"x","type":"quantitative","scale":{"domain":[-0.1,5.4],"nice":false,"zero":false},"axis":{"values":[0,2,4],"format":"d","title":null}}},"layer":[
{"transform":[{"filter":"datum.x==0.15"}],"mark":{"type":"text","fontSize":4.7,"align":"left","baseline":"middle","color":"#111"},"encoding":{"x":{"datum":0.29},"y":{"datum":0.6},"text":{"field":"p"}}},
{"transform":[{"filter":"datum.x==0.15"}],"mark":{"type":"text","fontSize":4.7,"align":"left","baseline":"middle","color":"#111","dy":6.3},"encoding":{"x":{"datum":0.29},"y":{"datum":0.6},"text":{"value":"(≥Somewhat low)"}}},
{"mark":{"type":"area","color":"#ff0000"},"encoding":{"y":{"field":"rl","type":"quantitative","scale":{"domain":[-0.036,0.756],"nice":false,"zero":false},"axis":{"values":[0,0.2,0.4,0.6],"tickCount":10,"format":".1f","title":null,"labelOverlap":false,"minExtent":15,"maxExtent":15}},"y2":{"field":"rh"}}},
{"mark":{"type":"area","color":"#0000ff"},"encoding":{"y":{"field":"bl","type":"quantitative"},"y2":{"field":"bh"}}},
{"mark":{"type":"line","color":"#0000ff"},"encoding":{"y":{"field":"b","type":"quantitative"}}},
{"mark":{"type":"line","color":"#ff0000"},"encoding":{"y":{"field":"r","type":"quantitative"}}}]},
{"transform":[{"filter":"datum.g=='f'&&datum.p=='Anger'"}],"width":65,"height":67,"encoding":{"x":{"field":"x","type":"quantitative","scale":{"domain":[-0.1,5.4],"nice":false,"zero":false},"axis":{"values":[0,2,4],"format":"d","title":null}}},"layer":[
{"transform":[{"filter":"datum.x==0.15"}],"mark":{"type":"text","fontSize":4.7,"align":"left","baseline":"middle","color":"#111"},"encoding":{"x":{"datum":0.29},"y":{"datum":0.6},"text":{"field":"p"}}},
{"transform":[{"filter":"datum.x==0.15"}],"mark":{"type":"text","fontSize":4.7,"align":"left","baseline":"middle","color":"#111","dy":6.3},"encoding":{"x":{"datum":0.29},"y":{"datum":0.6},"text":{"value":"(≥Somewhat high)"}}},
{"mark":{"type":"area","color":"#ff0000"},"encoding":{"y":{"field":"rl","type":"quantitative","scale":{"domain":[-0.036,0.756],"nice":false,"zero":false},"axis":{"values":[0,0.2,0.4,0.6],"tickCount":10,"labels":false,"title":null,"minExtent":3,"maxExtent":3}},"y2":{"field":"rh"}}},
{"mark":{"type":"area","color":"#0000ff"},"encoding":{"y":{"field":"bl","type":"quantitative"},"y2":{"field":"bh"}}},
{"mark":{"type":"line","color":"#0000ff"},"encoding":{"y":{"field":"b","type":"quantitative"}}},
{"mark":{"type":"line","color":"#ff0000"},"encoding":{"y":{"field":"r","type":"quantitative"}}}]},
{"transform":[{"filter":"datum.g=='f'&&datum.p=='Fatigue'"}],"width":65,"height":67,"encoding":{"x":{"field":"x","type":"quantitative","scale":{"domain":[-0.1,5.4],"nice":false,"zero":false},"axis":{"values":[0,2,4],"format":"d","title":null}}},"layer":[
{"transform":[{"filter":"datum.x==0.15"}],"mark":{"type":"text","fontSize":4.7,"align":"left","baseline":"middle","color":"#111"},"encoding":{"x":{"datum":0.29},"y":{"datum":0.6},"text":{"field":"p"}}},
{"transform":[{"filter":"datum.x==0.15"}],"mark":{"type":"text","fontSize":4.7,"align":"left","baseline":"middle","color":"#111","dy":6.3},"encoding":{"x":{"datum":0.29},"y":{"datum":0.6},"text":{"value":"(≥Somewhat high)"}}},
{"mark":{"type":"area","color":"#ff0000"},"encoding":{"y":{"field":"rl","type":"quantitative","scale":{"domain":[-0.036,0.756],"nice":false,"zero":false},"axis":{"values":[0,0.2,0.4,0.6],"tickCount":10,"labels":false,"title":null,"minExtent":3,"maxExtent":3}},"y2":{"field":"rh"}}},
{"mark":{"type":"area","color":"#0000ff"},"encoding":{"y":{"field":"bl","type":"quantitative"},"y2":{"field":"bh"}}},
{"mark":{"type":"line","color":"#0000ff"},"encoding":{"y":{"field":"b","type":"quantitative"}}},
{"mark":{"type":"line","color":"#ff0000"},"encoding":{"y":{"field":"r","type":"quantitative"}}}]}
]},
{"spacing":7,"hconcat":[
{"transform":[{"filter":"datum.g=='f'&&datum.p=='Anxiety'"}],"width":65,"height":67,"encoding":{"x":{"field":"x","type":"quantitative","scale":{"domain":[-0.1,5.4],"nice":false,"zero":false},"axis":{"values":[0,2,4],"format":"d","title":null}}},"layer":[
{"transform":[{"filter":"datum.x==0.15"}],"mark":{"type":"text","fontSize":4.7,"align":"left","baseline":"middle","color":"#111"},"encoding":{"x":{"datum":0.29},"y":{"datum":0.6},"text":{"field":"p"}}},
{"transform":[{"filter":"datum.x==0.15"}],"mark":{"type":"text","fontSize":4.7,"align":"left","baseline":"middle","color":"#111","dy":6.3},"encoding":{"x":{"datum":0.29},"y":{"datum":0.6},"text":{"value":"(≥Somewhat high)"}}},
{"mark":{"type":"area","color":"#ff0000"},"encoding":{"y":{"field":"rl","type":"quantitative","scale":{"domain":[-0.036,0.756],"nice":false,"zero":false},"axis":{"values":[0,0.2,0.4,0.6],"tickCount":10,"format":".1f","title":null,"labelOverlap":false,"minExtent":15,"maxExtent":15}},"y2":{"field":"rh"}}},
{"mark":{"type":"area","color":"#0000ff"},"encoding":{"y":{"field":"bl","type":"quantitative"},"y2":{"field":"bh"}}},
{"mark":{"type":"line","color":"#0000ff"},"encoding":{"y":{"field":"b","type":"quantitative"}}},
{"mark":{"type":"line","color":"#ff0000"},"encoding":{"y":{"field":"r","type":"quantitative"}}}]},
{"transform":[{"filter":"datum.g=='f'&&datum.p=='Depression'"}],"width":65,"height":67,"encoding":{"x":{"field":"x","type":"quantitative","scale":{"domain":[-0.1,5.4],"nice":false,"zero":false},"axis":{"values":[0,2,4],"format":"d","title":null}}},"layer":[
{"transform":[{"filter":"datum.x==0.15"}],"mark":{"type":"text","fontSize":4.7,"align":"left","baseline":"middle","color":"#111"},"encoding":{"x":{"datum":0.29},"y":{"datum":0.6},"text":{"field":"p"}}},
{"transform":[{"filter":"datum.x==0.15"}],"mark":{"type":"text","fontSize":4.7,"align":"left","baseline":"middle","color":"#111","dy":6.3},"encoding":{"x":{"datum":0.29},"y":{"datum":0.6},"text":{"value":"(≥Somewhat high)"}}},
{"mark":{"type":"area","color":"#ff0000"},"encoding":{"y":{"field":"rl","type":"quantitative","scale":{"domain":[-0.036,0.756],"nice":false,"zero":false},"axis":{"values":[0,0.2,0.4,0.6],"tickCount":10,"labels":false,"title":null,"minExtent":3,"maxExtent":3}},"y2":{"field":"rh"}}},
{"mark":{"type":"area","color":"#0000ff"},"encoding":{"y":{"field":"bl","type":"quantitative"},"y2":{"field":"bh"}}},
{"mark":{"type":"line","color":"#0000ff"},"encoding":{"y":{"field":"b","type":"quantitative"}}},
{"mark":{"type":"line","color":"#ff0000"},"encoding":{"y":{"field":"r","type":"quantitative"}}}]},
{"transform":[{"filter":"datum.g=='f'&&datum.p=='Physical'"}],"width":65,"height":67,"encoding":{"x":{"field":"x","type":"quantitative","scale":{"domain":[-0.1,5.4],"nice":false,"zero":false},"axis":{"values":[0,2,4],"format":"d","title":null}}},"layer":[
{"transform":[{"filter":"datum.x==0.15"}],"mark":{"type":"text","fontSize":4.7,"align":"left","baseline":"middle","color":"#111"},"encoding":{"x":{"datum":0.29},"y":{"datum":0.6},"text":{"field":"p"}}},
{"transform":[{"filter":"datum.x==0.15"}],"mark":{"type":"text","fontSize":4.7,"align":"left","baseline":"middle","color":"#111","dy":6.3},"encoding":{"x":{"datum":0.29},"y":{"datum":0.6},"text":{"value":"(≥Somewhat high)"}}},
{"mark":{"type":"area","color":"#ff0000"},"encoding":{"y":{"field":"rl","type":"quantitative","scale":{"domain":[-0.036,0.756],"nice":false,"zero":false},"axis":{"values":[0,0.2,0.4,0.6],"tickCount":10,"labels":false,"title":null,"minExtent":3,"maxExtent":3}},"y2":{"field":"rh"}}},
{"mark":{"type":"area","color":"#0000ff"},"encoding":{"y":{"field":"bl","type":"quantitative"},"y2":{"field":"bh"}}},
{"mark":{"type":"line","color":"#0000ff"},"encoding":{"y":{"field":"b","type":"quantitative"}}},
{"mark":{"type":"line","color":"#ff0000"},"encoding":{"y":{"field":"r","type":"quantitative"}}}]}
]}
]}
]},
{"spacing":61,"hconcat":[
{"title":"(g) Dark-green and yellow vegetables","spacing":0,"vconcat":[
{"spacing":7,"hconcat":[
{"transform":[{"filter":"datum.g=='g'&&datum.p=='Vigor'"}],"width":65,"height":67,"encoding":{"x":{"field":"x","type":"quantitative","scale":{"domain":[-0.25,7.35],"nice":false,"zero":false},"axis":{"values":[0,5],"format":"d","title":null}}},"layer":[
{"transform":[{"filter":"datum.x==0.1"}],"mark":{"type":"text","fontSize":4.7,"align":"left","baseline":"middle","color":"#111"},"encoding":{"x":{"datum":0.2},"y":{"datum":0.62},"text":{"field":"p"}}},
{"transform":[{"filter":"datum.x==0.1"}],"mark":{"type":"text","fontSize":4.7,"align":"left","baseline":"middle","color":"#111","dy":6.3},"encoding":{"x":{"datum":0.2},"y":{"datum":0.62},"text":{"value":"(≥Somewhat low)"}}},
{"mark":{"type":"area","color":"#ff0000"},"encoding":{"y":{"field":"rl","type":"quantitative","scale":{"domain":[-0.049,1.03],"nice":false,"zero":false},"axis":{"values":[0,0.25,0.5,0.75,1],"tickCount":10,"format":".2f","title":null,"labelOverlap":false,"minExtent":15,"maxExtent":15}},"y2":{"field":"rh"}}},
{"mark":{"type":"area","color":"#0000ff"},"encoding":{"y":{"field":"bl","type":"quantitative"},"y2":{"field":"bh"}}},
{"mark":{"type":"line","color":"#0000ff"},"encoding":{"y":{"field":"b","type":"quantitative"}}},
{"mark":{"type":"line","color":"#ff0000"},"encoding":{"y":{"field":"r","type":"quantitative"}}}]},
{"transform":[{"filter":"datum.g=='g'&&datum.p=='Anger'"}],"width":65,"height":67,"encoding":{"x":{"field":"x","type":"quantitative","scale":{"domain":[-0.25,7.35],"nice":false,"zero":false},"axis":{"values":[0,5],"format":"d","title":null}}},"layer":[
{"transform":[{"filter":"datum.x==0.1"}],"mark":{"type":"text","fontSize":4.7,"align":"left","baseline":"middle","color":"#111"},"encoding":{"x":{"datum":0.2},"y":{"datum":0.62},"text":{"field":"p"}}},
{"transform":[{"filter":"datum.x==0.1"}],"mark":{"type":"text","fontSize":4.7,"align":"left","baseline":"middle","color":"#111","dy":6.3},"encoding":{"x":{"datum":0.2},"y":{"datum":0.62},"text":{"value":"(≥Somewhat high)"}}},
{"mark":{"type":"area","color":"#ff0000"},"encoding":{"y":{"field":"rl","type":"quantitative","scale":{"domain":[-0.049,1.03],"nice":false,"zero":false},"axis":{"values":[0,0.25,0.5,0.75,1],"tickCount":10,"labels":false,"title":null,"minExtent":3,"maxExtent":3}},"y2":{"field":"rh"}}},
{"mark":{"type":"area","color":"#0000ff"},"encoding":{"y":{"field":"bl","type":"quantitative"},"y2":{"field":"bh"}}},
{"mark":{"type":"line","color":"#0000ff"},"encoding":{"y":{"field":"b","type":"quantitative"}}},
{"mark":{"type":"line","color":"#ff0000"},"encoding":{"y":{"field":"r","type":"quantitative"}}}]},
{"transform":[{"filter":"datum.g=='g'&&datum.p=='Fatigue'"}],"width":65,"height":67,"encoding":{"x":{"field":"x","type":"quantitative","scale":{"domain":[-0.25,7.35],"nice":false,"zero":false},"axis":{"values":[0,5],"format":"d","title":null}}},"layer":[
{"transform":[{"filter":"datum.x==0.1"}],"mark":{"type":"text","fontSize":4.7,"align":"left","baseline":"middle","color":"#111"},"encoding":{"x":{"datum":0.2},"y":{"datum":0.62},"text":{"field":"p"}}},
{"transform":[{"filter":"datum.x==0.1"}],"mark":{"type":"text","fontSize":4.7,"align":"left","baseline":"middle","color":"#111","dy":6.3},"encoding":{"x":{"datum":0.2},"y":{"datum":0.62},"text":{"value":"(≥Somewhat high)"}}},
{"mark":{"type":"area","color":"#ff0000"},"encoding":{"y":{"field":"rl","type":"quantitative","scale":{"domain":[-0.049,1.03],"nice":false,"zero":false},"axis":{"values":[0,0.25,0.5,0.75,1],"tickCount":10,"labels":false,"title":null,"minExtent":3,"maxExtent":3}},"y2":{"field":"rh"}}},
{"mark":{"type":"area","color":"#0000ff"},"encoding":{"y":{"field":"bl","type":"quantitative"},"y2":{"field":"bh"}}},
{"mark":{"type":"line","color":"#0000ff"},"encoding":{"y":{"field":"b","type":"quantitative"}}},
{"mark":{"type":"line","color":"#ff0000"},"encoding":{"y":{"field":"r","type":"quantitative"}}}]}
]},
{"spacing":7,"hconcat":[
{"transform":[{"filter":"datum.g=='g'&&datum.p=='Anxiety'"}],"width":65,"height":67,"encoding":{"x":{"field":"x","type":"quantitative","scale":{"domain":[-0.25,7.35],"nice":false,"zero":false},"axis":{"values":[0,5],"format":"d","title":null}}},"layer":[
{"transform":[{"filter":"datum.x==0.1"}],"mark":{"type":"text","fontSize":4.7,"align":"left","baseline":"middle","color":"#111"},"encoding":{"x":{"datum":0.2},"y":{"datum":0.62},"text":{"field":"p"}}},
{"transform":[{"filter":"datum.x==0.1"}],"mark":{"type":"text","fontSize":4.7,"align":"left","baseline":"middle","color":"#111","dy":6.3},"encoding":{"x":{"datum":0.2},"y":{"datum":0.62},"text":{"value":"(≥Somewhat high)"}}},
{"mark":{"type":"area","color":"#ff0000"},"encoding":{"y":{"field":"rl","type":"quantitative","scale":{"domain":[-0.049,1.03],"nice":false,"zero":false},"axis":{"values":[0,0.25,0.5,0.75,1],"tickCount":10,"format":".2f","title":null,"labelOverlap":false,"minExtent":15,"maxExtent":15}},"y2":{"field":"rh"}}},
{"mark":{"type":"area","color":"#0000ff"},"encoding":{"y":{"field":"bl","type":"quantitative"},"y2":{"field":"bh"}}},
{"mark":{"type":"line","color":"#0000ff"},"encoding":{"y":{"field":"b","type":"quantitative"}}},
{"mark":{"type":"line","color":"#ff0000"},"encoding":{"y":{"field":"r","type":"quantitative"}}}]},
{"transform":[{"filter":"datum.g=='g'&&datum.p=='Depression'"}],"width":65,"height":67,"encoding":{"x":{"field":"x","type":"quantitative","scale":{"domain":[-0.25,7.35],"nice":false,"zero":false},"axis":{"values":[0,5],"format":"d","title":null}}},"layer":[
{"transform":[{"filter":"datum.x==0.1"}],"mark":{"type":"text","fontSize":4.7,"align":"left","baseline":"middle","color":"#111"},"encoding":{"x":{"datum":0.2},"y":{"datum":0.62},"text":{"field":"p"}}},
{"transform":[{"filter":"datum.x==0.1"}],"mark":{"type":"text","fontSize":4.7,"align":"left","baseline":"middle","color":"#111","dy":6.3},"encoding":{"x":{"datum":0.2},"y":{"datum":0.62},"text":{"value":"(≥Somewhat high)"}}},
{"mark":{"type":"area","color":"#ff0000"},"encoding":{"y":{"field":"rl","type":"quantitative","scale":{"domain":[-0.049,1.03],"nice":false,"zero":false},"axis":{"values":[0,0.25,0.5,0.75,1],"tickCount":10,"labels":false,"title":null,"minExtent":3,"maxExtent":3}},"y2":{"field":"rh"}}},
{"mark":{"type":"area","color":"#0000ff"},"encoding":{"y":{"field":"bl","type":"quantitative"},"y2":{"field":"bh"}}},
{"mark":{"type":"line","color":"#0000ff"},"encoding":{"y":{"field":"b","type":"quantitative"}}},
{"mark":{"type":"line","color":"#ff0000"},"encoding":{"y":{"field":"r","type":"quantitative"}}}]},
{"transform":[{"filter":"datum.g=='g'&&datum.p=='Physical'"}],"width":65,"height":67,"encoding":{"x":{"field":"x","type":"quantitative","scale":{"domain":[-0.25,7.35],"nice":false,"zero":false},"axis":{"values":[0,5],"format":"d","title":null}}},"layer":[
{"transform":[{"filter":"datum.x==0.1"}],"mark":{"type":"text","fontSize":4.7,"align":"left","baseline":"middle","color":"#111"},"encoding":{"x":{"datum":0.2},"y":{"datum":0.62},"text":{"field":"p"}}},
{"transform":[{"filter":"datum.x==0.1"}],"mark":{"type":"text","fontSize":4.7,"align":"left","baseline":"middle","color":"#111","dy":6.3},"encoding":{"x":{"datum":0.2},"y":{"datum":0.62},"text":{"value":"(≥Somewhat high)"}}},
{"mark":{"type":"area","color":"#ff0000"},"encoding":{"y":{"field":"rl","type":"quantitative","scale":{"domain":[-0.049,1.03],"nice":false,"zero":false},"axis":{"values":[0,0.25,0.5,0.75,1],"tickCount":10,"labels":false,"title":null,"minExtent":3,"maxExtent":3}},"y2":{"field":"rh"}}},
{"mark":{"type":"area","color":"#0000ff"},"encoding":{"y":{"field":"bl","type":"quantitative"},"y2":{"field":"bh"}}},
{"mark":{"type":"line","color":"#0000ff"},"encoding":{"y":{"field":"b","type":"quantitative"}}},
{"mark":{"type":"line","color":"#ff0000"},"encoding":{"y":{"field":"r","type":"quantitative"}}}]}
]}
]},
{"title":"(h) Other vegetables, mushrooms, seaweeds, and konjac","spacing":0,"vconcat":[
{"spacing":7,"hconcat":[
{"transform":[{"filter":"datum.g=='h'&&datum.p=='Vigor'"}],"width":65,"height":67,"encoding":{"x":{"field":"x","type":"quantitative","scale":{"domain":[-0.25,7.15],"nice":false,"zero":false},"axis":{"values":[0,2.5,5],"format":".1f","title":null}}},"layer":[
{"transform":[{"filter":"datum.x==0.1"}],"mark":{"type":"text","fontSize":4.7,"align":"left","baseline":"middle","color":"#111"},"encoding":{"x":{"datum":0.19},"y":{"datum":0.62},"text":{"field":"p"}}},
{"transform":[{"filter":"datum.x==0.1"}],"mark":{"type":"text","fontSize":4.7,"align":"left","baseline":"middle","color":"#111","dy":6.3},"encoding":{"x":{"datum":0.19},"y":{"datum":0.62},"text":{"value":"(≥Somewhat low)"}}},
{"mark":{"type":"area","color":"#ff0000"},"encoding":{"y":{"field":"rl","type":"quantitative","scale":{"domain":[-0.046,0.955],"nice":false,"zero":false},"axis":{"values":[0,0.2,0.4,0.6,0.8],"tickCount":10,"format":".1f","title":null,"labelOverlap":false,"minExtent":15,"maxExtent":15}},"y2":{"field":"rh"}}},
{"mark":{"type":"area","color":"#0000ff"},"encoding":{"y":{"field":"bl","type":"quantitative"},"y2":{"field":"bh"}}},
{"mark":{"type":"line","color":"#0000ff"},"encoding":{"y":{"field":"b","type":"quantitative"}}},
{"mark":{"type":"line","color":"#ff0000"},"encoding":{"y":{"field":"r","type":"quantitative"}}}]},
{"transform":[{"filter":"datum.g=='h'&&datum.p=='Anger'"}],"width":65,"height":67,"encoding":{"x":{"field":"x","type":"quantitative","scale":{"domain":[-0.25,7.15],"nice":false,"zero":false},"axis":{"values":[0,2.5,5],"format":".1f","title":null}}},"layer":[
{"transform":[{"filter":"datum.x==0.1"}],"mark":{"type":"text","fontSize":4.7,"align":"left","baseline":"middle","color":"#111"},"encoding":{"x":{"datum":0.19},"y":{"datum":0.62},"text":{"field":"p"}}},
{"transform":[{"filter":"datum.x==0.1"}],"mark":{"type":"text","fontSize":4.7,"align":"left","baseline":"middle","color":"#111","dy":6.3},"encoding":{"x":{"datum":0.19},"y":{"datum":0.62},"text":{"value":"(≥Somewhat high)"}}},
{"mark":{"type":"area","color":"#ff0000"},"encoding":{"y":{"field":"rl","type":"quantitative","scale":{"domain":[-0.046,0.955],"nice":false,"zero":false},"axis":{"values":[0,0.2,0.4,0.6,0.8],"tickCount":10,"labels":false,"title":null,"minExtent":3,"maxExtent":3}},"y2":{"field":"rh"}}},
{"mark":{"type":"area","color":"#0000ff"},"encoding":{"y":{"field":"bl","type":"quantitative"},"y2":{"field":"bh"}}},
{"mark":{"type":"line","color":"#0000ff"},"encoding":{"y":{"field":"b","type":"quantitative"}}},
{"mark":{"type":"line","color":"#ff0000"},"encoding":{"y":{"field":"r","type":"quantitative"}}}]},
{"transform":[{"filter":"datum.g=='h'&&datum.p=='Fatigue'"}],"width":65,"height":67,"encoding":{"x":{"field":"x","type":"quantitative","scale":{"domain":[-0.25,7.15],"nice":false,"zero":false},"axis":{"values":[0,2.5,5],"format":".1f","title":null}}},"layer":[
{"transform":[{"filter":"datum.x==0.1"}],"mark":{"type":"text","fontSize":4.7,"align":"left","baseline":"middle","color":"#111"},"encoding":{"x":{"datum":0.19},"y":{"datum":0.62},"text":{"field":"p"}}},
{"transform":[{"filter":"datum.x==0.1"}],"mark":{"type":"text","fontSize":4.7,"align":"left","baseline":"middle","color":"#111","dy":6.3},"encoding":{"x":{"datum":0.19},"y":{"datum":0.62},"text":{"value":"(≥Somewhat high)"}}},
{"mark":{"type":"area","color":"#ff0000"},"encoding":{"y":{"field":"rl","type":"quantitative","scale":{"domain":[-0.046,0.955],"nice":false,"zero":false},"axis":{"values":[0,0.2,0.4,0.6,0.8],"tickCount":10,"labels":false,"title":null,"minExtent":3,"maxExtent":3}},"y2":{"field":"rh"}}},
{"mark":{"type":"area","color":"#0000ff"},"encoding":{"y":{"field":"bl","type":"quantitative"},"y2":{"field":"bh"}}},
{"mark":{"type":"line","color":"#0000ff"},"encoding":{"y":{"field":"b","type":"quantitative"}}},
{"mark":{"type":"line","color":"#ff0000"},"encoding":{"y":{"field":"r","type":"quantitative"}}}]}
]},
{"spacing":7,"hconcat":[
{"transform":[{"filter":"datum.g=='h'&&datum.p=='Anxiety'"}],"width":65,"height":67,"encoding":{"x":{"field":"x","type":"quantitative","scale":{"domain":[-0.25,7.15],"nice":false,"zero":false},"axis":{"values":[0,2.5,5],"format":".1f","title":null}}},"layer":[
{"transform":[{"filter":"datum.x==0.1"}],"mark":{"type":"text","fontSize":4.7,"align":"left","baseline":"middle","color":"#111"},"encoding":{"x":{"datum":0.19},"y":{"datum":0.62},"text":{"field":"p"}}},
{"transform":[{"filter":"datum.x==0.1"}],"mark":{"type":"text","fontSize":4.7,"align":"left","baseline":"middle","color":"#111","dy":6.3},"encoding":{"x":{"datum":0.19},"y":{"datum":0.62},"text":{"value":"(≥Somewhat high)"}}},
{"mark":{"type":"area","color":"#ff0000"},"encoding":{"y":{"field":"rl","type":"quantitative","scale":{"domain":[-0.046,0.955],"nice":false,"zero":false},"axis":{"values":[0,0.2,0.4,0.6,0.8],"tickCount":10,"format":".1f","title":null,"labelOverlap":false,"minExtent":15,"maxExtent":15}},"y2":{"field":"rh"}}},
{"mark":{"type":"area","color":"#0000ff"},"encoding":{"y":{"field":"bl","type":"quantitative"},"y2":{"field":"bh"}}},
{"mark":{"type":"line","color":"#0000ff"},"encoding":{"y":{"field":"b","type":"quantitative"}}},
{"mark":{"type":"line","color":"#ff0000"},"encoding":{"y":{"field":"r","type":"quantitative"}}}]},
{"transform":[{"filter":"datum.g=='h'&&datum.p=='Depression'"}],"width":65,"height":67,"encoding":{"x":{"field":"x","type":"quantitative","scale":{"domain":[-0.25,7.15],"nice":false,"zero":false},"axis":{"values":[0,2.5,5],"format":".1f","title":null}}},"layer":[
{"transform":[{"filter":"datum.x==0.1"}],"mark":{"type":"text","fontSize":4.7,"align":"left","baseline":"middle","color":"#111"},"encoding":{"x":{"datum":0.19},"y":{"datum":0.62},"text":{"field":"p"}}},
{"transform":[{"filter":"datum.x==0.1"}],"mark":{"type":"text","fontSize":4.7,"align":"left","baseline":"middle","color":"#111","dy":6.3},"encoding":{"x":{"datum":0.19},"y":{"datum":0.62},"text":{"value":"(≥Somewhat high)"}}},
{"mark":{"type":"area","color":"#ff0000"},"encoding":{"y":{"field":"rl","type":"quantitative","scale":{"domain":[-0.046,0.955],"nice":false,"zero":false},"axis":{"values":[0,0.2,0.4,0.6,0.8],"tickCount":10,"labels":false,"title":null,"minExtent":3,"maxExtent":3}},"y2":{"field":"rh"}}},
{"mark":{"type":"area","color":"#0000ff"},"encoding":{"y":{"field":"bl","type":"quantitative"},"y2":{"field":"bh"}}},
{"mark":{"type":"line","color":"#0000ff"},"encoding":{"y":{"field":"b","type":"quantitative"}}},
{"mark":{"type":"line","color":"#ff0000"},"encoding":{"y":{"field":"r","type":"quantitative"}}}]},
{"transform":[{"filter":"datum.g=='h'&&datum.p=='Physical'"}],"width":65,"height":67,"encoding":{"x":{"field":"x","type":"quantitative","scale":{"domain":[-0.25,7.15],"nice":false,"zero":false},"axis":{"values":[0,2.5,5],"format":".1f","title":null}}},"layer":[
{"transform":[{"filter":"datum.x==0.1"}],"mark":{"type":"text","fontSize":4.7,"align":"left","baseline":"middle","color":"#111"},"encoding":{"x":{"datum":0.19},"y":{"datum":0.62},"text":{"field":"p"}}},
{"transform":[{"filter":"datum.x==0.1"}],"mark":{"type":"text","fontSize":4.7,"align":"left","baseline":"middle","color":"#111","dy":6.3},"encoding":{"x":{"datum":0.19},"y":{"datum":0.62},"text":{"value":"(≥Somewhat high)"}}},
{"mark":{"type":"area","color":"#ff0000"},"encoding":{"y":{"field":"rl","type":"quantitative","scale":{"domain":[-0.046,0.955],"nice":false,"zero":false},"axis":{"values":[0,0.2,0.4,0.6,0.8],"tickCount":10,"labels":false,"title":null,"minExtent":3,"maxExtent":3}},"y2":{"field":"rh"}}},
{"mark":{"type":"area","color":"#0000ff"},"encoding":{"y":{"field":"bl","type":"quantitative"},"y2":{"field":"bh"}}},
{"mark":{"type":"line","color":"#0000ff"},"encoding":{"y":{"field":"b","type":"quantitative"}}},
{"mark":{"type":"line","color":"#ff0000"},"encoding":{"y":{"field":"r","type":"quantitative"}}}]}
]}
]}
]},
{"spacing":61,"hconcat":[
{"title":"(i) Bread, noodles, and potatoes","spacing":0,"vconcat":[
{"spacing":7,"hconcat":[
{"transform":[{"filter":"datum.g=='i'&&datum.p=='Vigor'"}],"width":65,"height":67,"encoding":{"x":{"field":"x","type":"quantitative","scale":{"domain":[-0.02,3.62],"nice":false,"zero":false},"axis":{"values":[0,2],"format":"d","title":null}}},"layer":[
{"transform":[{"filter":"datum.x==0.15"}],"mark":{"type":"text","fontSize":4.7,"align":"left","baseline":"middle","color":"#111"},"encoding":{"x":{"datum":0.33},"y":{"datum":0.62},"text":{"field":"p"}}},
{"transform":[{"filter":"datum.x==0.15"}],"mark":{"type":"text","fontSize":4.7,"align":"left","baseline":"middle","color":"#111","dy":6.3},"encoding":{"x":{"datum":0.33},"y":{"datum":0.62},"text":{"value":"(≥Somewhat low)"}}},
{"mark":{"type":"area","color":"#ff0000"},"encoding":{"y":{"field":"rl","type":"quantitative","scale":{"domain":[-0.048,1.01],"nice":false,"zero":false},"axis":{"values":[0,0.25,0.5,0.75,1],"tickCount":10,"format":".2f","title":null,"labelOverlap":false,"minExtent":15,"maxExtent":15}},"y2":{"field":"rh"}}},
{"mark":{"type":"area","color":"#0000ff"},"encoding":{"y":{"field":"bl","type":"quantitative"},"y2":{"field":"bh"}}},
{"mark":{"type":"line","color":"#0000ff"},"encoding":{"y":{"field":"b","type":"quantitative"}}},
{"mark":{"type":"line","color":"#ff0000"},"encoding":{"y":{"field":"r","type":"quantitative"}}}]},
{"transform":[{"filter":"datum.g=='i'&&datum.p=='Anger'"}],"width":65,"height":67,"encoding":{"x":{"field":"x","type":"quantitative","scale":{"domain":[-0.02,3.62],"nice":false,"zero":false},"axis":{"values":[0,2],"format":"d","title":null}}},"layer":[
{"transform":[{"filter":"datum.x==0.15"}],"mark":{"type":"text","fontSize":4.7,"align":"left","baseline":"middle","color":"#111"},"encoding":{"x":{"datum":0.33},"y":{"datum":0.62},"text":{"field":"p"}}},
{"transform":[{"filter":"datum.x==0.15"}],"mark":{"type":"text","fontSize":4.7,"align":"left","baseline":"middle","color":"#111","dy":6.3},"encoding":{"x":{"datum":0.33},"y":{"datum":0.62},"text":{"value":"(≥Somewhat high)"}}},
{"mark":{"type":"area","color":"#ff0000"},"encoding":{"y":{"field":"rl","type":"quantitative","scale":{"domain":[-0.048,1.01],"nice":false,"zero":false},"axis":{"values":[0,0.25,0.5,0.75,1],"tickCount":10,"labels":false,"title":null,"minExtent":3,"maxExtent":3}},"y2":{"field":"rh"}}},
{"mark":{"type":"area","color":"#0000ff"},"encoding":{"y":{"field":"bl","type":"quantitative"},"y2":{"field":"bh"}}},
{"mark":{"type":"line","color":"#0000ff"},"encoding":{"y":{"field":"b","type":"quantitative"}}},
{"mark":{"type":"line","color":"#ff0000"},"encoding":{"y":{"field":"r","type":"quantitative"}}}]},
{"transform":[{"filter":"datum.g=='i'&&datum.p=='Fatigue'"}],"width":65,"height":67,"encoding":{"x":{"field":"x","type":"quantitative","scale":{"domain":[-0.02,3.62],"nice":false,"zero":false},"axis":{"values":[0,2],"format":"d","title":null}}},"layer":[
{"transform":[{"filter":"datum.x==0.15"}],"mark":{"type":"text","fontSize":4.7,"align":"left","baseline":"middle","color":"#111"},"encoding":{"x":{"datum":0.33},"y":{"datum":0.62},"text":{"field":"p"}}},
{"transform":[{"filter":"datum.x==0.15"}],"mark":{"type":"text","fontSize":4.7,"align":"left","baseline":"middle","color":"#111","dy":6.3},"encoding":{"x":{"datum":0.33},"y":{"datum":0.62},"text":{"value":"(≥Somewhat high)"}}},
{"mark":{"type":"area","color":"#ff0000"},"encoding":{"y":{"field":"rl","type":"quantitative","scale":{"domain":[-0.048,1.01],"nice":false,"zero":false},"axis":{"values":[0,0.25,0.5,0.75,1],"tickCount":10,"labels":false,"title":null,"minExtent":3,"maxExtent":3}},"y2":{"field":"rh"}}},
{"mark":{"type":"area","color":"#0000ff"},"encoding":{"y":{"field":"bl","type":"quantitative"},"y2":{"field":"bh"}}},
{"mark":{"type":"line","color":"#0000ff"},"encoding":{"y":{"field":"b","type":"quantitative"}}},
{"mark":{"type":"line","color":"#ff0000"},"encoding":{"y":{"field":"r","type":"quantitative"}}}]}
]},
{"spacing":7,"hconcat":[
{"transform":[{"filter":"datum.g=='i'&&datum.p=='Anxiety'"}],"width":65,"height":67,"encoding":{"x":{"field":"x","type":"quantitative","scale":{"domain":[-0.02,3.62],"nice":false,"zero":false},"axis":{"values":[0,2],"format":"d","title":null}}},"layer":[
{"transform":[{"filter":"datum.x==0.15"}],"mark":{"type":"text","fontSize":4.7,"align":"left","baseline":"middle","color":"#111"},"encoding":{"x":{"datum":0.33},"y":{"datum":0.62},"text":{"field":"p"}}},
{"transform":[{"filter":"datum.x==0.15"}],"mark":{"type":"text","fontSize":4.7,"align":"left","baseline":"middle","color":"#111","dy":6.3},"encoding":{"x":{"datum":0.33},"y":{"datum":0.62},"text":{"value":"(≥Somewhat high)"}}},
{"mark":{"type":"area","color":"#ff0000"},"encoding":{"y":{"field":"rl","type":"quantitative","scale":{"domain":[-0.048,1.01],"nice":false,"zero":false},"axis":{"values":[0,0.25,0.5,0.75,1],"tickCount":10,"format":".2f","title":null,"labelOverlap":false,"minExtent":15,"maxExtent":15}},"y2":{"field":"rh"}}},
{"mark":{"type":"area","color":"#0000ff"},"encoding":{"y":{"field":"bl","type":"quantitative"},"y2":{"field":"bh"}}},
{"mark":{"type":"line","color":"#0000ff"},"encoding":{"y":{"field":"b","type":"quantitative"}}},
{"mark":{"type":"line","color":"#ff0000"},"encoding":{"y":{"field":"r","type":"quantitative"}}}]},
{"transform":[{"filter":"datum.g=='i'&&datum.p=='Depression'"}],"width":65,"height":67,"encoding":{"x":{"field":"x","type":"quantitative","scale":{"domain":[-0.02,3.62],"nice":false,"zero":false},"axis":{"values":[0,2],"format":"d","title":null}}},"layer":[
{"transform":[{"filter":"datum.x==0.15"}],"mark":{"type":"text","fontSize":4.7,"align":"left","baseline":"middle","color":"#111"},"encoding":{"x":{"datum":0.33},"y":{"datum":0.62},"text":{"field":"p"}}},
{"transform":[{"filter":"datum.x==0.15"}],"mark":{"type":"text","fontSize":4.7,"align":"left","baseline":"middle","color":"#111","dy":6.3},"encoding":{"x":{"datum":0.33},"y":{"datum":0.62},"text":{"value":"(≥Somewhat high)"}}},
{"mark":{"type":"area","color":"#ff0000"},"encoding":{"y":{"field":"rl","type":"quantitative","scale":{"domain":[-0.048,1.01],"nice":false,"zero":false},"axis":{"values":[0,0.25,0.5,0.75,1],"tickCount":10,"labels":false,"title":null,"minExtent":3,"maxExtent":3}},"y2":{"field":"rh"}}},
{"mark":{"type":"area","color":"#0000ff"},"encoding":{"y":{"field":"bl","type":"quantitative"},"y2":{"field":"bh"}}},
{"mark":{"type":"line","color":"#0000ff"},"encoding":{"y":{"field":"b","type":"quantitative"}}},
{"mark":{"type":"line","color":"#ff0000"},"encoding":{"y":{"field":"r","type":"quantitative"}}}]},
{"transform":[{"filter":"datum.g=='i'&&datum.p=='Physical'"}],"width":65,"height":67,"encoding":{"x":{"field":"x","type":"quantitative","scale":{"domain":[-0.02,3.62],"nice":false,"zero":false},"axis":{"values":[0,2],"format":"d","title":null}}},"layer":[
{"transform":[{"filter":"datum.x==0.15"}],"mark":{"type":"text","fontSize":4.7,"align":"left","baseline":"middle","color":"#111"},"encoding":{"x":{"datum":0.33},"y":{"datum":0.62},"text":{"field":"p"}}},
{"transform":[{"filter":"datum.x==0.15"}],"mark":{"type":"text","fontSize":4.7,"align":"left","baseline":"middle","color":"#111","dy":6.3},"encoding":{"x":{"datum":0.33},"y":{"datum":0.62},"text":{"value":"(≥Somewhat high)"}}},
{"mark":{"type":"area","color":"#ff0000"},"encoding":{"y":{"field":"rl","type":"quantitative","scale":{"domain":[-0.048,1.01],"nice":false,"zero":false},"axis":{"values":[0,0.25,0.5,0.75,1],"tickCount":10,"labels":false,"title":null,"minExtent":3,"maxExtent":3}},"y2":{"field":"rh"}}},
{"mark":{"type":"area","color":"#0000ff"},"encoding":{"y":{"field":"bl","type":"quantitative"},"y2":{"field":"bh"}}},
{"mark":{"type":"line","color":"#0000ff"},"encoding":{"y":{"field":"b","type":"quantitative"}}},
{"mark":{"type":"line","color":"#ff0000"},"encoding":{"y":{"field":"r","type":"quantitative"}}}]}
]}
]},
{"title":"(j) Confectionery and seasonings, etc.","spacing":0,"vconcat":[
{"spacing":7,"hconcat":[
{"transform":[{"filter":"datum.g=='j'&&datum.p=='Vigor'"}],"width":65,"height":67,"encoding":{"x":{"field":"x","type":"quantitative","scale":{"domain":[-0.1,4.8],"nice":false,"zero":false},"axis":{"values":[0,2,4],"format":"d","title":null}}},"layer":[
{"transform":[{"filter":"datum.x==0.15"}],"mark":{"type":"text","fontSize":4.7,"align":"left","baseline":"middle","color":"#111"},"encoding":{"x":{"datum":0.25},"y":{"datum":0.57},"text":{"field":"p"}}},
{"transform":[{"filter":"datum.x==0.15"}],"mark":{"type":"text","fontSize":4.7,"align":"left","baseline":"middle","color":"#111","dy":6.3},"encoding":{"x":{"datum":0.25},"y":{"datum":0.57},"text":{"value":"(≥Somewhat low)"}}},
{"mark":{"type":"area","color":"#ff0000"},"encoding":{"y":{"field":"rl","type":"quantitative","scale":{"domain":[-0.028,0.59],"nice":false,"zero":false},"axis":{"values":[0,0.2,0.4],"tickCount":10,"format":".1f","title":null,"labelOverlap":false,"minExtent":15,"maxExtent":15}},"y2":{"field":"rh"}}},
{"mark":{"type":"area","color":"#0000ff"},"encoding":{"y":{"field":"bl","type":"quantitative"},"y2":{"field":"bh"}}},
{"mark":{"type":"line","color":"#0000ff"},"encoding":{"y":{"field":"b","type":"quantitative"}}},
{"mark":{"type":"line","color":"#ff0000"},"encoding":{"y":{"field":"r","type":"quantitative"}}}]},
{"transform":[{"filter":"datum.g=='j'&&datum.p=='Anger'"}],"width":65,"height":67,"encoding":{"x":{"field":"x","type":"quantitative","scale":{"domain":[-0.1,4.8],"nice":false,"zero":false},"axis":{"values":[0,2,4],"format":"d","title":null}}},"layer":[
{"transform":[{"filter":"datum.x==0.15"}],"mark":{"type":"text","fontSize":4.7,"align":"left","baseline":"middle","color":"#111"},"encoding":{"x":{"datum":0.25},"y":{"datum":0.57},"text":{"field":"p"}}},
{"transform":[{"filter":"datum.x==0.15"}],"mark":{"type":"text","fontSize":4.7,"align":"left","baseline":"middle","color":"#111","dy":6.3},"encoding":{"x":{"datum":0.25},"y":{"datum":0.57},"text":{"value":"(≥Somewhat high)"}}},
{"mark":{"type":"area","color":"#ff0000"},"encoding":{"y":{"field":"rl","type":"quantitative","scale":{"domain":[-0.028,0.59],"nice":false,"zero":false},"axis":{"values":[0,0.2,0.4],"tickCount":10,"labels":false,"title":null,"minExtent":3,"maxExtent":3}},"y2":{"field":"rh"}}},
{"mark":{"type":"area","color":"#0000ff"},"encoding":{"y":{"field":"bl","type":"quantitative"},"y2":{"field":"bh"}}},
{"mark":{"type":"line","color":"#0000ff"},"encoding":{"y":{"field":"b","type":"quantitative"}}},
{"mark":{"type":"line","color":"#ff0000"},"encoding":{"y":{"field":"r","type":"quantitative"}}}]},
{"transform":[{"filter":"datum.g=='j'&&datum.p=='Fatigue'"}],"width":65,"height":67,"encoding":{"x":{"field":"x","type":"quantitative","scale":{"domain":[-0.1,4.8],"nice":false,"zero":false},"axis":{"values":[0,2,4],"format":"d","title":null}}},"layer":[
{"transform":[{"filter":"datum.x==0.15"}],"mark":{"type":"text","fontSize":4.7,"align":"left","baseline":"middle","color":"#111"},"encoding":{"x":{"datum":0.25},"y":{"datum":0.57},"text":{"field":"p"}}},
{"transform":[{"filter":"datum.x==0.15"}],"mark":{"type":"text","fontSize":4.7,"align":"left","baseline":"middle","color":"#111","dy":6.3},"encoding":{"x":{"datum":0.25},"y":{"datum":0.57},"text":{"value":"(≥Somewhat high)"}}},
{"mark":{"type":"area","color":"#ff0000"},"encoding":{"y":{"field":"rl","type":"quantitative","scale":{"domain":[-0.028,0.59],"nice":false,"zero":false},"axis":{"values":[0,0.2,0.4],"tickCount":10,"labels":false,"title":null,"minExtent":3,"maxExtent":3}},"y2":{"field":"rh"}}},
{"mark":{"type":"area","color":"#0000ff"},"encoding":{"y":{"field":"bl","type":"quantitative"},"y2":{"field":"bh"}}},
{"mark":{"type":"line","color":"#0000ff"},"encoding":{"y":{"field":"b","type":"quantitative"}}},
{"mark":{"type":"line","color":"#ff0000"},"encoding":{"y":{"field":"r","type":"quantitative"}}}]}
]},
{"spacing":7,"hconcat":[
{"transform":[{"filter":"datum.g=='j'&&datum.p=='Anxiety'"}],"width":65,"height":67,"encoding":{"x":{"field":"x","type":"quantitative","scale":{"domain":[-0.1,4.8],"nice":false,"zero":false},"axis":{"values":[0,2,4],"format":"d","title":null}}},"layer":[
{"transform":[{"filter":"datum.x==0.15"}],"mark":{"type":"text","fontSize":4.7,"align":"left","baseline":"middle","color":"#111"},"encoding":{"x":{"datum":0.25},"y":{"datum":0.57},"text":{"field":"p"}}},
{"transform":[{"filter":"datum.x==0.15"}],"mark":{"type":"text","fontSize":4.7,"align":"left","baseline":"middle","color":"#111","dy":6.3},"encoding":{"x":{"datum":0.25},"y":{"datum":0.57},"text":{"value":"(≥Somewhat high)"}}},
{"mark":{"type":"area","color":"#ff0000"},"encoding":{"y":{"field":"rl","type":"quantitative","scale":{"domain":[-0.028,0.59],"nice":false,"zero":false},"axis":{"values":[0,0.2,0.4],"tickCount":10,"format":".1f","title":null,"labelOverlap":false,"minExtent":15,"maxExtent":15}},"y2":{"field":"rh"}}},
{"mark":{"type":"area","color":"#0000ff"},"encoding":{"y":{"field":"bl","type":"quantitative"},"y2":{"field":"bh"}}},
{"mark":{"type":"line","color":"#0000ff"},"encoding":{"y":{"field":"b","type":"quantitative"}}},
{"mark":{"type":"line","color":"#ff0000"},"encoding":{"y":{"field":"r","type":"quantitative"}}}]},
{"transform":[{"filter":"datum.g=='j'&&datum.p=='Depression'"}],"width":65,"height":67,"encoding":{"x":{"field":"x","type":"quantitative","scale":{"domain":[-0.1,4.8],"nice":false,"zero":false},"axis":{"values":[0,2,4],"format":"d","title":null}}},"layer":[
{"transform":[{"filter":"datum.x==0.15"}],"mark":{"type":"text","fontSize":4.7,"align":"left","baseline":"middle","color":"#111"},"encoding":{"x":{"datum":0.25},"y":{"datum":0.57},"text":{"field":"p"}}},
{"transform":[{"filter":"datum.x==0.15"}],"mark":{"type":"text","fontSize":4.7,"align":"left","baseline":"middle","color":"#111","dy":6.3},"encoding":{"x":{"datum":0.25},"y":{"datum":0.57},"text":{"value":"(≥Somewhat high)"}}},
{"mark":{"type":"area","color":"#ff0000"},"encoding":{"y":{"field":"rl","type":"quantitative","scale":{"domain":[-0.028,0.59],"nice":false,"zero":false},"axis":{"values":[0,0.2,0.4],"tickCount":10,"labels":false,"title":null,"minExtent":3,"maxExtent":3}},"y2":{"field":"rh"}}},
{"mark":{"type":"area","color":"#0000ff"},"encoding":{"y":{"field":"bl","type":"quantitative"},"y2":{"field":"bh"}}},
{"mark":{"type":"line","color":"#0000ff"},"encoding":{"y":{"field":"b","type":"quantitative"}}},
{"mark":{"type":"line","color":"#ff0000"},"encoding":{"y":{"field":"r","type":"quantitative"}}}]},
{"transform":[{"filter":"datum.g=='j'&&datum.p=='Physical'"}],"width":65,"height":67,"encoding":{"x":{"field":"x","type":"quantitative","scale":{"domain":[-0.1,4.8],"nice":false,"zero":false},"axis":{"values":[0,2,4],"format":"d","title":null}}},"layer":[
{"transform":[{"filter":"datum.x==0.15"}],"mark":{"type":"text","fontSize":4.7,"align":"left","baseline":"middle","color":"#111"},"encoding":{"x":{"datum":0.25},"y":{"datum":0.57},"text":{"field":"p"}}},
{"transform":[{"filter":"datum.x==0.15"}],"mark":{"type":"text","fontSize":4.7,"align":"left","baseline":"middle","color":"#111","dy":6.3},"encoding":{"x":{"datum":0.25},"y":{"datum":0.57},"text":{"value":"(≥Somewhat high)"}}},
{"mark":{"type":"area","color":"#ff0000"},"encoding":{"y":{"field":"rl","type":"quantitative","scale":{"domain":[-0.028,0.59],"nice":false,"zero":false},"axis":{"values":[0,0.2,0.4],"tickCount":10,"labels":false,"title":null,"minExtent":3,"maxExtent":3}},"y2":{"field":"rh"}}},
{"mark":{"type":"area","color":"#0000ff"},"encoding":{"y":{"field":"bl","type":"quantitative"},"y2":{"field":"bh"}}},
{"mark":{"type":"line","color":"#0000ff"},"encoding":{"y":{"field":"b","type":"quantitative"}}},
{"mark":{"type":"line","color":"#ff0000"},"encoding":{"y":{"field":"r","type":"quantitative"}}}]}
]}
]}
]}
],
"config":{
 "font":"DejaVu Sans",
 "view":{"stroke":"#333","strokeWidth":0.8},
 "area":{"opacity":0.4,"blend":"multiply"},
 "line":{"strokeWidth":1.3},
 "axis":{"domain":false,"grid":false,"ticks":true,"tickSize":2.5,"tickCount":10,"tickColor":"#222","tickWidth":0.8,"labelFontSize":7,"labelFont":"DejaVu Sans","labelColor":"#222","labelPadding":1.5,"labelOverlap":false},
 "title":{"fontSize":7.5,"fontWeight":"normal","font":"DejaVu Sans","color":"#222","offset":8,"anchor":"middle","dx":9}
}
}
